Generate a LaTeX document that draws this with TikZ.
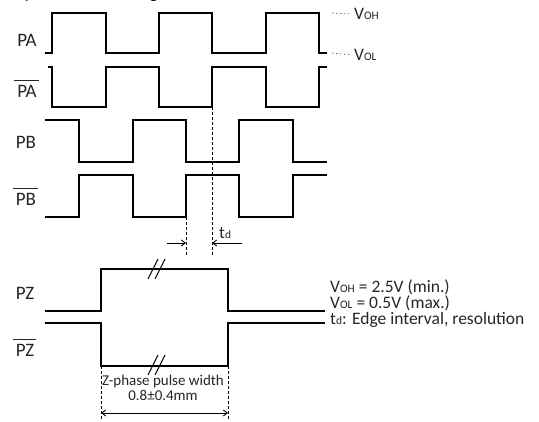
\documentclass[tikz,border=0pt]{standalone}
\usepackage{fontspec}
\setmainfont{Carlito}
\usetikzlibrary{arrows.meta}
\newcommand{\sml}[1]{{\fontsize{11.5}{11.5}\selectfont #1}}
\begin{document}
\begin{tikzpicture}[x=1pt,y=-1pt,
  sig/.style={line width=1.5pt, line join=miter},
  lbl/.style={font=\fontsize{19}{21}\selectfont, inner sep=0pt, text=black!85},
  note/.style={font=\fontsize{17.5}{19}\selectfont, inner sep=0pt, text=black!85},
  line/.style={text height=10pt, text depth=2.5pt, anchor=base west},
  znote/.style={font=\fontsize{15}{17}\selectfont, inner sep=0pt, text=black!85, text height=9pt, text depth=2.5pt, anchor=base},
  ovbar/.style={line width=0.7pt, black!85},
  guide/.style={line width=0.6pt, dash pattern=on 3pt off 2pt},
  dots/.style={line width=0.6pt, dash pattern=on 1.5pt off 2.5pt, black!70},
  dimarrow/.style={line width=0.9pt, -{Straight Barb[length=4pt,width=6pt]}},
  brk/.style={line width=1pt}]
\useasboundingbox (0,0) rectangle (539,422);
\begin{scope}
  \clip (0,0) rectangle (539,422);
  \node[anchor=base west, inner sep=0pt, font=\fontsize{17.5}{19}\selectfont] (title) at (-2,-1) {Output waveform diagram};
\end{scope}

% waveforms
\draw[sig] (45,53) -- (52,53) -- (52,13) -- (106,13) -- (106,53) -- (159,53) -- (159,13) -- (212,13) -- (212,53) -- (266,53) -- (266,13) -- (319,13) -- (319,53) -- (327,53);
\draw[sig] (48,67) -- (52,67) -- (52,107) -- (106,107) -- (106,67) -- (159,67) -- (159,107) -- (212,107) -- (212,67) -- (266,67) -- (266,107) -- (319,107) -- (319,67) -- (327,67);
\draw[sig] (45,120) -- (79,120) -- (79,162) -- (133,162) -- (133,120) -- (186,120) -- (186,162) -- (239,162) -- (239,120) -- (293,120) -- (293,162) -- (327,162);
\draw[sig] (45,217) -- (79,217) -- (79,175) -- (133,175) -- (133,217) -- (186,217) -- (186,175) -- (239,175) -- (239,217) -- (293,217) -- (293,175) -- (327,175);
\draw[sig] (45,311) -- (101,311) -- (101,269) -- (228,269) -- (228,311) -- (325,311);
\draw[sig] (45,323) -- (101,323) -- (101,366) -- (228,366) -- (228,323) -- (325,323);

% break marks
\draw[brk] (148,279) -- (158,259);
\draw[brk] (155,279) -- (165,259);
\draw[brk] (148,375) -- (158,355);
\draw[brk] (155,375) -- (165,355);

% signal labels
\node[lbl] (pa) at (27,40) {PA};
\node[lbl] (pab) at (27,91) {PA};
\draw[ovbar] ([xshift=-3pt,yshift=4pt]pab.north west) -- ([xshift=2pt,yshift=4pt]pab.north east);
\node[lbl] (pb) at (26,142) {PB};
\node[lbl] (pbb) at (26,199) {PB};
\draw[ovbar] ([xshift=-3pt,yshift=4pt]pbb.north west) -- ([xshift=2pt,yshift=4pt]pbb.north east);
\node[lbl] (pz) at (25,293) {PZ};
\node[lbl] (pzb) at (25,350) {PZ};
\draw[ovbar] ([xshift=-3pt,yshift=4pt]pzb.north west) -- ([xshift=2pt,yshift=4pt]pzb.north east);

% level markers
\coordinate (vohs) at (332,13);
\coordinate (vols) at (332,53);
\node[note, anchor=west] (voh) at (354,14) {V\sml{OH}};
\node[note, anchor=west] (vol) at (354,55) {V\sml{OL}};
\draw[dots] (vohs) -- ([xshift=-2pt]voh.west);
\draw[dots] (vols) -- ([xshift=-2pt]vol.west);

% td dimension
\coordinate (ga1) at (212,107);
\coordinate (ga2) at (212,255);
\coordinate (gb1) at (186,217);
\coordinate (gb2) at (186,255);
\draw[guide] (ga1) -- (ga2);
\draw[guide] (gb1) -- (gb2);
\coordinate (tdl) at (167,243);
\coordinate (tdr) at (242,243);
\draw[dimarrow] (tdl) -- (gb1 |- tdl);
\draw[dimarrow] (tdr) -- (ga1 |- tdr);
\node[note, anchor=base west] (td) at (219,239) {t\sml{d}};

% Z-phase width
\coordinate (z1) at (101,366);
\coordinate (z2) at (228,366);
\coordinate (z1b) at (101,420);
\coordinate (z2b) at (228,420);
\draw[guide] (z1) -- (z1b);
\draw[guide] (z2) -- (z2b);
\draw[line width=0.9pt, {Straight Barb[length=4pt,width=6pt]}-{Straight Barb[length=4pt,width=6pt]}] (z1 |- 0,413) -- (z2 |- 0,413);
\node[znote] (zw) at (163,385.5) {Z-phase pulse width};
\node[znote] (zv) at (163,400.5) {0.8±0.4mm};

% notes
\node[note, line] (n1) at (330,293) {V\sml{OH} = 2.5V (min.)};
\node[note, line] (n2) at (330,309) {V\sml{OL} = 0.5V (max.)};
\node[note, line] (n3) at (330,325) {t\sml{d}: Edge interval, resolution};
\end{tikzpicture}
\end{document}
